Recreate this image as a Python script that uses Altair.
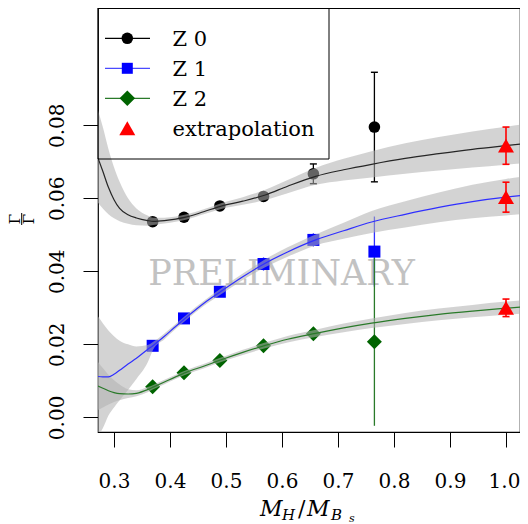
import altair as alt
import pandas as pd

# ---------------- data ----------------
mass_x = [0.369, 0.425, 0.489, 0.567, 0.656, 0.765]
z0_val = [0.0536, 0.0548, 0.0579, 0.0605, 0.0667, 0.0795]
z0_err = [0.0005, 0.0005, 0.0007, 0.0010, 0.0027, 0.0150]
z1_val = [0.0196, 0.0271, 0.0344, 0.0420, 0.0486, 0.0454]
z1_err = [0.0006, 0.0006, 0.0008, 0.0018, 0.0018, 0.0096]
z2_val = [0.0084, 0.0122, 0.0156, 0.0196, 0.0229, 0.0207]
z2_err = [0.0004, 0.0004, 0.0005, 0.0007, 0.0009, 0.0230]

extrap_x = [1.0, 1.0, 1.0]
extrap_val = [0.0744, 0.0603, 0.0300]
extrap_err = [0.0051, 0.0041, 0.0024]

fit_x = [0.2714, 0.28, 0.29, 0.30, 0.31, 0.325, 0.34, 0.36, 0.37, 0.39, 0.41, 0.43,
         0.46, 0.49, 0.53, 0.57, 0.61, 0.66, 0.71, 0.76, 0.82, 0.88, 0.94, 1.0, 1.025]
z0_fit = [0.0710, 0.0674, 0.0630, 0.0596, 0.0572, 0.0555, 0.0546, 0.0539, 0.0537, 0.0539,
          0.0543, 0.0549, 0.0563, 0.0578, 0.0592, 0.0609, 0.0633, 0.0660, 0.0678, 0.0693,
          0.0709, 0.0722, 0.0734, 0.0744, 0.0748]
z0_lo = [0.0588, 0.0572, 0.0556, 0.0545, 0.0537, 0.0530, 0.0526, 0.0525, 0.0527, 0.0531,
         0.0536, 0.0542, 0.0556, 0.0570, 0.0582, 0.0595, 0.0614, 0.0637, 0.0649, 0.0657,
         0.0667, 0.0676, 0.0684, 0.0692, 0.0695]
z0_hi = [0.0840, 0.0795, 0.0735, 0.0685, 0.0645, 0.0600, 0.0572, 0.0553, 0.0547, 0.0547,
         0.0550, 0.0556, 0.0570, 0.0586, 0.0603, 0.0623, 0.0650, 0.0683, 0.0708, 0.0729,
         0.0751, 0.0768, 0.0783, 0.0796, 0.0801]
z1_fit = [0.0112, 0.0111, 0.0111, 0.0118, 0.0129, 0.0146, 0.0162, 0.0186, 0.0197, 0.0222,
          0.0249, 0.0275, 0.0312, 0.0344, 0.0385, 0.0422, 0.0453, 0.0486, 0.0511, 0.0535,
          0.0556, 0.0575, 0.0591, 0.0603, 0.0607]
z1_lo = [-0.0050, -0.0030, 0.0005, 0.0027, 0.0047, 0.0075, 0.0105, 0.0150, 0.0186, 0.0214,
         0.0242, 0.0268, 0.0305, 0.0336, 0.0376, 0.0411, 0.0440, 0.0471, 0.0489, 0.0505,
         0.0520, 0.0534, 0.0545, 0.0553, 0.0556]
z1_hi = [0.0276, 0.0258, 0.0238, 0.0222, 0.0210, 0.0200, 0.0194, 0.0198, 0.0207, 0.0230,
         0.0256, 0.0282, 0.0319, 0.0352, 0.0394, 0.0433, 0.0466, 0.0501, 0.0533, 0.0565,
         0.0592, 0.0616, 0.0637, 0.0653, 0.0658]
z2_fit = [0.0086, 0.0080, 0.0073, 0.0068, 0.0065, 0.0064, 0.0066, 0.0076, 0.0083, 0.0097,
          0.0111, 0.0124, 0.0140, 0.0157, 0.0178, 0.0197, 0.0214, 0.0230, 0.0245, 0.0258,
          0.0271, 0.0282, 0.0291, 0.0299, 0.0302]
z2_lo = [0.0020, 0.0027, 0.0035, 0.0042, 0.0047, 0.0053, 0.0058, 0.0069, 0.0077, 0.0091,
         0.0105, 0.0118, 0.0134, 0.0151, 0.0171, 0.0189, 0.0205, 0.0220, 0.0233, 0.0245,
         0.0256, 0.0266, 0.0274, 0.0281, 0.0284]
z2_hi = [0.0152, 0.0135, 0.0117, 0.0102, 0.0090, 0.0077, 0.0074, 0.0083, 0.0089, 0.0103,
         0.0117, 0.0130, 0.0146, 0.0163, 0.0185, 0.0205, 0.0223, 0.0240, 0.0257, 0.0271,
         0.0286, 0.0298, 0.0308, 0.0317, 0.0320]

x_ticks = [0.3, 0.4, 0.5, 0.6, 0.7, 0.8, 0.9, 1.0]
y_ticks = [0.00, 0.02, 0.04, 0.06, 0.08]
legend_labels = ["Z 0", "Z 1", "Z 2", "extrapolation"]
watermark = "PRELIMINARY"

# ---------------- styling ----------------
FONT = "DejaVu Serif"
BAND = "#b1b1b1"
BAND_OP = 0.56
W, H = 422, 424

xscale = alt.Scale(domain=[0.2714, 1.025], nice=False, zero=False)
yscale = alt.Scale(domain=[-0.0040, 0.1121], nice=False, zero=False)
xaxis = alt.Axis(values=x_ticks, format=".1f", tickSize=15, tickColor="black", tickWidth=1,
                 labelFont=FONT, labelFontSize=20, labelColor="black", labelPadding=40,
                 labelOffset={"condition": {"test": "datum.value > 0.95", "value": -2}, "value": 0},
                 labelBaseline="alphabetic", labelFlush=False, domain=False, grid=False, title=None)
yaxis = alt.Axis(values=y_ticks, format=".2f", tickSize=15, tickColor="black", tickWidth=1,
                 labelFont=FONT, labelFontSize=20, labelColor="black", labelPadding=20,
                 labelAngle=270, labelAlign="center", labelBaseline="alphabetic",
                 labelFlush=False, domain=False, grid=False, title=None)


def X(f):
    return alt.X(f, type="quantitative", scale=xscale, axis=xaxis)


def Y(f):
    return alt.Y(f, type="quantitative", scale=yscale, axis=yaxis)


def pts_df(xs, vals, errs):
    return pd.DataFrame({"x": xs, "y": vals,
                         "lo": [v - e for v, e in zip(vals, errs)],
                         "hi": [v + e for v, e in zip(vals, errs)]})


series = [
    dict(val=z0_val, err=z0_err, fit=z0_fit, lo=z0_lo, hi=z0_hi, color="black",
         line="#262626", shape="circle", size=133, caps=True),
    dict(val=z1_val, err=z1_err, fit=z1_fit, lo=z1_lo, hi=z1_hi, color="#0000ff",
         line="#2f2fff", shape="square", size=144, caps=False),
    dict(val=z2_val, err=z2_err, fit=z2_fit, lo=z2_lo, hi=z2_hi, color="#006400",
         line="#2a7a2a", shape="diamond", size=225, caps=False),
]
CAP = "M-1,0L1,0"

layers = []

# watermark
layers.append(alt.Chart(pd.DataFrame({"t": [watermark]})).mark_text(
    font=FONT, fontSize=35, color="#c2c2c2", align="center", baseline="alphabetic"
).encode(x=alt.value(183.5), y=alt.value(277), text="t:N"))

# error bars and points
for s in series:
    d = pts_df(mass_x, s["val"], s["err"])
    errc = s["line"] if s["shape"] != "circle" else "black"
    layers.append(alt.Chart(d).mark_rule(color=errc, strokeWidth=1.3).encode(
        x=X("x"), y=Y("lo"), y2="hi"))
    if s["caps"]:
        for f in ("lo", "hi"):
            layers.append(alt.Chart(d).mark_point(shape=CAP, size=49, filled=False,
                                                  stroke="black", strokeWidth=1.4, opacity=1).encode(
                x=X("x"), y=Y(f)))
for s in series:
    d = pts_df(mass_x, s["val"], s["err"])
    layers.append(alt.Chart(d).mark_point(shape=s["shape"], size=s["size"], filled=True,
                                          color=s["color"], opacity=1).encode(
        x=X("x"), y=Y("y")))

# confidence bands
for s in series:
    d = pd.DataFrame({"x": fit_x, "lo": s["lo"], "hi": s["hi"]})
    layers.append(alt.Chart(d).mark_area(color=BAND, opacity=BAND_OP, interpolate="monotone",
                                         clip=True).encode(x=X("x"), y=Y("lo"), y2="hi"))

# fit curves
for s in series:
    d = pd.DataFrame({"x": fit_x, "y": s["fit"]})
    layers.append(alt.Chart(d).mark_line(color=s["line"], strokeWidth=1.2, interpolate="monotone",
                                         clip=True).encode(x=X("x"), y=Y("y")))

# extrapolation
de = pts_df(extrap_x, extrap_val, extrap_err)
layers.append(alt.Chart(de).mark_rule(color="red", strokeWidth=1.6).encode(x=X("x"), y=Y("lo"), y2="hi"))
for f in ("lo", "hi"):
    layers.append(alt.Chart(de).mark_point(shape=CAP, size=49, filled=False, stroke="red",
                                           strokeWidth=1.6, opacity=1).encode(x=X("x"), y=Y(f)))
layers.append(alt.Chart(de).mark_point(shape="triangle-up", size=256, filled=True, color="red",
                                       opacity=1).encode(x=X("x"), y=Y("y")))

# legend (box + entries)
layers.append(alt.Chart(pd.DataFrame({"a": [0]})).mark_rect(fill="white", fillOpacity=0,
                                                           stroke="black", strokeWidth=1).encode(
    x=alt.value(0), x2=alt.value(231), y=alt.value(0), y2=alt.value(151)))
leg_y = [30.3, 60.3, 90.3, 120.3]
leg_sym = [("circle", "black", 133, "black"), ("square", "#0000ff", 121, "#4a4aff"),
           ("diamond", "#006400", 240, "#2a7a2a"), ("triangle-up", "red", 256, None)]
for lab, yy, (shp, col, sz, lcol) in zip(legend_labels, leg_y, leg_sym):
    dl = pd.DataFrame({"label": [lab]})
    if lcol is not None:
        layers.append(alt.Chart(dl).mark_rule(color=lcol, strokeWidth=1.2).encode(
            x=alt.value(7), x2=alt.value(52), y=alt.value(yy)))
    layers.append(alt.Chart(dl).mark_point(shape=shp, size=sz, filled=True, color=col, opacity=1).encode(
        x=alt.value(29.3), y=alt.value(yy)))
    layers.append(alt.Chart(dl).mark_text(font=FONT, fontSize=21, color="black", align="left",
                                          baseline="alphabetic").encode(
        x=alt.value(74.5), y=alt.value(yy + 7.5), text="label:N"))

# x-axis title  M_H / M_{B_s}
xt_parts = [("M", 162, 508, 22, "italic"), ("H", 184, 511.5, 15, "italic"),
            ("/", 200, 508, 22, "normal"), ("M", 209, 508, 22, "italic"),
            ("B", 233, 511.5, 15, "italic"), ("s", 251, 513.5, 11, "italic")]
for txt, px, py, fs, sty in xt_parts:
    layers.append(alt.Chart(pd.DataFrame({"t": [txt]})).mark_text(
        font=FONT, fontSize=fs, fontStyle=sty, color="black", align="left", baseline="alphabetic"
    ).encode(x=alt.value(px), y=alt.value(py), text="t:N"))

# y-axis title  Gamma / Gamma (fraction, rotated)
for px in (-83, -69):
    layers.append(alt.Chart(pd.DataFrame({"t": ["Γ"]})).mark_text(
        font=FONT, fontSize=15, color="black", align="center", baseline="middle", angle=270
    ).encode(x=alt.value(px), y=alt.value(211), text="t:N"))
layers.append(alt.Chart(pd.DataFrame({"a": [0]})).mark_rule(color="black", strokeWidth=1).encode(
    x=alt.value(-76.3), y=alt.value(205), y2=alt.value(217)))

chart = alt.layer(*layers).properties(
    width=W, height=H,
    autosize=alt.AutoSizeParams(type="none"),
    padding={"left": 90, "top": 0, "right": 0, "bottom": 92},
).configure_view(stroke="black", strokeWidth=1.2)

chart.save("out.html", embed_options={"renderer": "svg", "actions": False})
